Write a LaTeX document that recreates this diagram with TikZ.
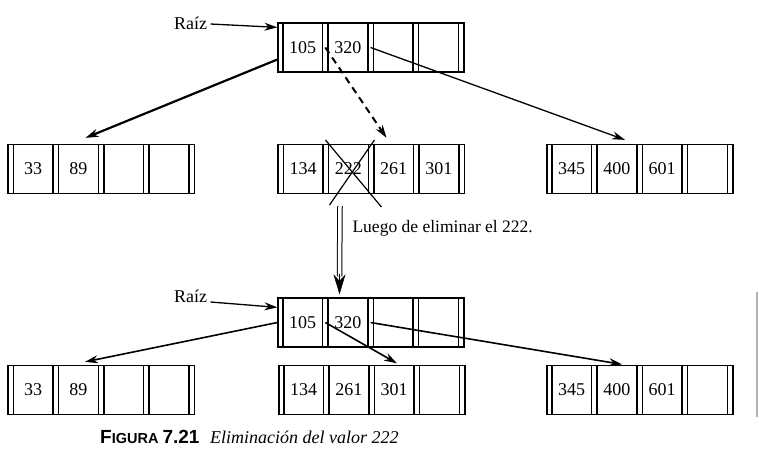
\documentclass[tikz,border=0pt]{standalone}
\usepackage{fontspec}
\setmainfont{Liberation Serif}
\setsansfont{Liberation Sans}
\usetikzlibrary{arrows.meta}

\begin{document}
\begin{tikzpicture}[x=1pt, y=1pt, font=\fontsize{18}{20}\selectfont, line join=round, >={Stealth[length=13pt,width=8pt]},
	bnodo/.style={draw, line width=1.3pt, minimum width=186pt, minimum height=49pt, inner sep=0pt},
	clave/.style={inner sep=0pt},
	flecha/.style={->, line width=1.3pt}]
	\def \p{5.5}
	\def \c{39.75}
	% nodo del arbol B: nombre, centro, claves
	\def \bnodo#1#2#3{
		\node[bnodo] (#1) at (#2) {};
		\foreach \k in {0,...,4}{
			\draw[line width=1.3pt] ([xshift={\k*(\p+\c)}]#1.south west) -- ([xshift={\k*(\p+\c)}]#1.north west);
			\draw[line width=1.3pt] ([xshift={\k*(\p+\c)+\p}]#1.south west) -- ([xshift={\k*(\p+\c)+\p}]#1.north west);
			\coordinate (#1-p\k) at ([xshift={\k*(\p+\c)+\p/2}]#1.west);
		}
		\foreach \v [count=\i from 0] in {#3}
		\node[clave] (#1-\i) at ([xshift={\p+\c/2+\i*(\p+\c)}]#1.west) {\v};
	}
	\useasboundingbox (0,0) rectangle (759,-475);
	
	% antes
	\bnodo{r1}{371,-47.5}{105,320}
	\bnodo{h11}{101.5,-169}{33,89}
	\bnodo{h12}{371.5,-169}{134,222,261,301}
	\bnodo{h13}{640,-169}{345,400,601}
	\node (raiz1) at (190.5,-23) {Raíz};
	\draw[flecha] ([yshift=-1pt]raiz1.east) -- ([yshift=-5pt]r1.north west);
	\draw[flecha, line width=2.2pt] ([yshift=-12pt]r1.west) -- ([shift={(-16pt,6pt)}]h11.north);
	\draw[flecha, line width=2pt, dash pattern=on 7pt off 5pt] (r1-p1) -- ([shift={(15pt,6pt)}]h12.north);
	\draw[flecha] (r1-p2) -- ([shift={(-15pt,4pt)}]h13.north);
	\draw[line width=1.2pt] ([shift={(-23pt,29pt)}]h12-1.center) -- ([shift={(33pt,-38pt)}]h12-1.center)
	([shift={(26pt,29pt)}]h12-1.center) -- ([shift={(-19pt,-36pt)}]h12-1.center);
	
	% flecha doble
	\coordinate (ini) at ([shift={(-31.5pt,-12pt)}]h12.south);
	\node[anchor=west, font=\fontsize{17.5}{20}\selectfont] (luego) at ([shift={(9pt,-22.5pt)}]ini) {Luego de eliminar el 222.};
	
	% despues
	\bnodo{r2}{371,-322.5}{105,320}
	\bnodo{h21}{101.5,-390}{33,89}
	\bnodo{h22}{372,-390}{134,261,301}
	\bnodo{h23}{640,-390}{345,400,601}
	\coordinate (fin) at ([shift={(-31.5pt,3pt)}]r2.north);
	\draw[double, double distance=3.5pt, line width=1pt] (ini) -- ([yshift=18pt]fin);
	\draw[-{Stealth[length=20pt,width=12pt]}, line width=0.5pt] ([yshift=20pt]fin) -- (fin);
	\node (raiz2) at (190.5,-296) {Raíz};
	\draw[flecha] ([yshift=-6pt]raiz2.east) -- ([yshift=-10pt]r2.north west);
	\draw[flecha, line width=1.6pt] (r2.west) -- ([shift={(-16.5pt,3pt)}]h21.north);
	\draw[flecha, line width=1.6pt] (r2-p1) -- ([shift={(25pt,1.5pt)}]h22.north);
	\draw[flecha, line width=1.6pt] (r2-p2) -- ([shift={(-18pt,0.5pt)}]h23.north);
	
	\node[anchor=west, inner sep=0pt] (pie) at (100,-437) {\sffamily\bfseries\fontsize{19}{20}\selectfont F\fontsize{14.5}{20}\selectfont IGURA \fontsize{19}{20}\selectfont 7.21\ \ \normalfont\itshape\fontsize{18}{20}\selectfont Eliminación del valor 222};
	\draw[gray!60, line width=2pt] (757,-292) -- (757,-417);
\end{tikzpicture}
\end{document}
